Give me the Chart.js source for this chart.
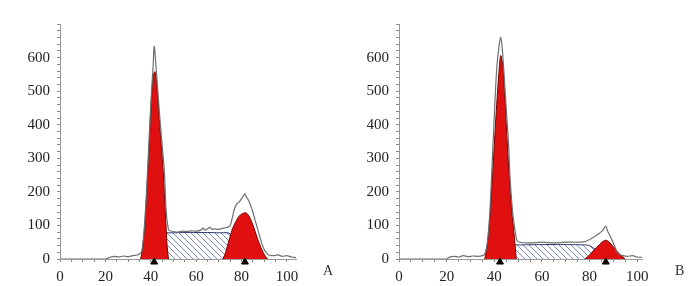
<!DOCTYPE html>
<html>
<head>
<meta charset="utf-8">
<script src="https://cdn.jsdelivr.net/npm/chart.js@4.4.1/dist/chart.umd.min.js"></script>
<style>
body { margin: 0; background: #fff; }
#wrap { position: relative; width: 700px; height: 286px; }
canvas { position: absolute; top: 0; }
#cA { left: 0; }
#cB { left: 350px; }
.tag { position: absolute; font: 14px "Liberation Serif", serif; color: #333; }
</style>
</head>
<body>
<div id="wrap">
  <canvas id="cA" width="350" height="286" style="width:350px;height:286px"></canvas>
  <canvas id="cB" width="350" height="286" style="width:350px;height:286px"></canvas>
  <div class="tag" style="left:323px;top:263px">A</div>
  <div class="tag" style="left:675px;top:263px">B</div>
</div>
<script>
// ---- 공통 축 라벨 ----
const yLabels = [0, 100, 200, 300, 400, 500, 600];
const xLabels = [0, 20, 40, 60, 80, 100];

// ---- A: 원시 히스토그램 ----
const rawAx = [0, 10, 20, 22, 24, 26, 28, 30, 32, 34, 35, 36, 37, 38, 39, 40, 41, 41.5, 42, 43, 44, 45, 46, 46.5, 47, 47.5, 48, 50, 52, 54, 56, 58, 60, 62, 63, 64, 65, 66, 67, 68, 70, 72, 74, 75, 76, 77, 78, 79, 80, 81, 81.5, 82, 83, 84, 85, 86, 87, 88, 89, 90, 91, 92, 94, 96, 98, 100, 102, 104];
const rawAy = [0, 0, 0, 5, 8, 6, 9, 7, 10, 12, 15, 22, 80, 185, 320, 460, 570, 634, 600, 510, 420, 340, 260, 180, 125, 100, 86, 82, 80, 83, 82, 84, 83, 86, 92, 86, 90, 94, 88, 90, 88, 92, 95, 100, 125, 152, 165, 170, 180, 190, 194, 186, 176, 160, 140, 115, 92, 68, 45, 28, 18, 12, 10, 12, 8, 10, 6, 4];
// A: G1 / S / G2
const g1Ax = [35.5, 36, 37, 38, 39, 40, 41, 41.8, 42.5, 43.5, 44.5, 45.5, 46.5, 47.2, 47.8];
const g1Ay = [0, 15, 70, 170, 300, 440, 540, 558, 530, 440, 350, 260, 130, 40, 0];
const sAx = [38, 42, 44, 47, 50, 55, 60, 65, 70, 74, 76, 78, 80, 84];
const sAy = [0, 60, 78, 78, 78, 79, 79, 79, 78, 78, 70, 50, 25, 0];
const g2Ax = [71.8, 73, 74, 75, 76, 77, 78, 79, 80, 81, 81.5, 82.5, 83.5, 84.5, 85.5, 86.5, 87.5, 88.5, 89.5, 90.5, 91.5];
const g2Ay = [0, 20, 45, 67, 90, 105, 118, 128, 134, 137, 138, 135, 125, 110, 92, 72, 52, 35, 20, 8, 0];
const markAx = [41.5, 81.5];

// ---- B: 원시 히스토그램 ----
const rawBx = [0, 10, 20, 21, 23, 25, 27, 29, 31, 33, 35, 36, 37, 38, 39, 40, 41, 42, 42.7, 43.3, 44, 45, 46, 46.5, 47, 47.5, 48, 48.5, 49, 49.5, 50.5, 55, 60, 65, 70, 75, 78, 80, 82, 84, 85.5, 86.8, 87.5, 88.5, 89.5, 90.5, 91.5, 92.5, 94, 96, 98, 100, 102];
const rawBy = [0, 0, 0, 5, 8, 6, 10, 7, 9, 8, 10, 15, 45, 125, 265, 425, 565, 635, 660, 630, 560, 450, 340, 260, 200, 155, 120, 95, 72, 56, 50, 48, 50, 48, 50, 50, 52, 58, 66, 76, 85, 98, 84, 70, 55, 38, 22, 14, 10, 8, 10, 6, 5];
// B: G1 / S / G2
const g1Bx = [36, 37, 38, 39, 40, 41, 42, 42.7, 43.5, 44.5, 45.5, 46.5, 47.5, 48.5, 49.2];
const g1By = [0, 40, 110, 220, 340, 460, 560, 606, 580, 470, 340, 220, 130, 60, 0];
const sBx = [38, 42, 44, 50, 60, 70, 78, 80, 83, 86];
const sBy = [0, 35, 42, 42, 43, 43, 42, 40, 25, 0];
const g2Bx = [78, 80, 82, 84, 85.5, 86.8, 88, 89.5, 91, 92.5, 94, 95];
const g2By = [0, 12, 28, 42, 52, 56, 52, 40, 28, 15, 6, 0];
const markBx = [42.4, 86.8];

const pts = (xs, ys) => xs.map((x, i) => ({ x: x, y: ys[i] }));

/**
 * S기 빗금 패턴
 */
function hatchPattern() {
    const c = document.createElement('canvas');
    c.width = 6; c.height = 6;
    const g = c.getContext('2d');
    g.strokeStyle = '#7d8fc9';
    g.lineWidth = 1;
    g.beginPath();
    g.moveTo(0, 0); g.lineTo(6, 6);
    g.moveTo(-3, 3); g.lineTo(3, 9);
    g.moveTo(3, -3); g.lineTo(9, 3);
    g.stroke();
    return g.createPattern(c, 'repeat');
}

/**
 * 패널 하나 그리기
 */
function makePanel(canvasId, d, xMax, leftW, rightPad) {
    const red = '#e01010';
    const serif = { family: '"Liberation Serif", serif', size: 15 };
    const curve = (data, extra) => Object.assign({
        data: data, pointRadius: 0, tension: 0.3, borderWidth: 1
    }, extra);

    new Chart(document.getElementById(canvasId), {
        type: 'line',
        data: {
            datasets: [
                { type: 'scatter', data: d.marks.map(x => ({ x: x, y: -9 })), pointStyle: 'triangle',
                  pointRadius: 4, backgroundColor: '#000', borderColor: '#000', clip: false, order: 0 },
                curve(pts(d.rawX, d.rawY), { borderColor: '#6f6f6f', borderWidth: 1.2, fill: false, order: 1 }),
                curve(pts(d.g1X, d.g1Y), { borderColor: '#7a0000', backgroundColor: red, fill: 'origin', order: 2 }),
                curve(pts(d.g2X, d.g2Y), { borderColor: '#7a0000', backgroundColor: red, fill: 'origin', order: 2 }),
                curve(pts(d.sX, d.sY), { borderColor: '#2a3570', backgroundColor: hatchPattern(), fill: 'origin', tension: 0.2, order: 3 })
            ]
        },
        options: {
            responsive: false,
            animation: false,
            layout: { padding: { left: 0, right: rightPad, top: 24, bottom: 0 } },
            plugins: { legend: { display: false }, tooltip: { enabled: false } },
            scales: {
                x: {
                    type: 'linear', min: 0, max: xMax,
                    grid: { drawOnChartArea: false, tickLength: 3, color: '#888' },
                    border: { color: '#999' },
                    ticks: {
                        stepSize: 5, includeBounds: false, autoSkip: false, maxRotation: 0,
                        padding: 6, color: '#222', font: serif,
                        callback: v => xLabels.includes(v) ? v : ''
                    },
                    afterFit: s => { s.height = 27; }
                },
                y: {
                    min: 0, max: 700,
                    grid: { drawOnChartArea: false, tickLength: 3, color: '#888' },
                    border: { color: '#999' },
                    ticks: {
                        stepSize: 20, autoSkip: false, padding: 7, color: '#222', font: serif,
                        callback: v => yLabels.includes(v) ? v : ''
                    },
                    afterFit: s => { s.width = leftW; }
                }
            }
        }
    });
}

makePanel('cA', {
    rawX: rawAx, rawY: rawAy, g1X: g1Ax, g1Y: g1Ay, sX: sAx, sY: sAy,
    g2X: g2Ax, g2Y: g2Ay, marks: markAx
}, 104, 60, 54);

makePanel('cB', {
    rawX: rawBx, rawY: rawBy, g1X: g1Bx, g1Y: g1By, sX: sBx, sY: sBy,
    g2X: g2Bx, g2Y: g2By, marks: markBx
}, 102, 49, 58);
</script>
</body>
</html>
